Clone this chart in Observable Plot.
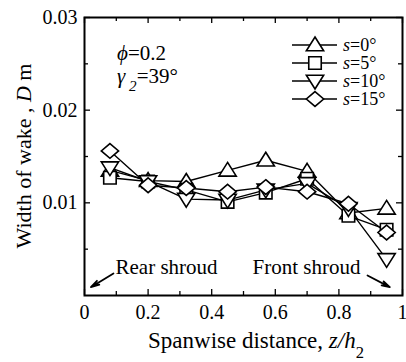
<!DOCTYPE html>
<html><head><meta charset="utf-8">
<script src="https://cdn.jsdelivr.net/npm/d3@7"></script>
<script src="https://cdn.jsdelivr.net/npm/@observablehq/plot@0.6"></script>
<style>body{margin:0;background:#fff} svg text{font-family:"Liberation Serif","Times New Roman","DejaVu Serif",serif !important}</style>
</head><body><div id="chart"></div>
<script>
// ---- data ----
const positions = [0.08, 0.2, 0.32, 0.45, 0.57, 0.7, 0.83, 0.95];
const s0  = [0.0135, 0.0124, 0.0123, 0.0135, 0.0146, 0.0134, 0.0089, 0.0094];
const s5  = [0.0127, 0.0123, 0.0114, 0.0101, 0.0111, 0.0126, 0.0086, 0.0071];
const s10 = [0.0138, 0.0123, 0.0104, 0.0103, 0.0114, 0.0121, 0.0094, 0.0039];
const s15 = [0.0156, 0.0119, 0.0116, 0.0112, 0.0117, 0.0112, 0.0099, 0.0068];
const seriesNames = ["0°", "5°", "10°", "15°"];
const xMajor = [0, 0.2, 0.4, 0.6, 0.8, 1];
const xMinor = [0.1, 0.3, 0.5, 0.7, 0.9];
const yMajor = [0.01, 0.02, 0.03];
const yMinor = [0.005, 0.015, 0.025];
const yTickLabels = ["0.01", "0.02", "0.03"];
const xTickLabels = ["0", "0.2", "0.4", "0.6", "0.8", "1"];
const rearArrow = [{x1: 0.091, y1: 0.00237, x2: 0.02, y2: 0.0009}];
const frontArrow = [{x1: 0.89, y1: 0.00216, x2: 0.96, y2: 0.0009}];

// ---- symbols ----
const triUp = {draw(c, size){const r=Math.sqrt(size/Math.PI);c.moveTo(0,-r);c.lineTo(r*1.08,r*0.72);c.lineTo(-r*1.08,r*0.72);c.closePath();}};
const triDown = {draw(c, size){const r=Math.sqrt(size/Math.PI);c.moveTo(0,r);c.lineTo(r*1.08,-r*0.72);c.lineTo(-r*1.08,-r*0.72);c.closePath();}};
const square = {draw(c, size){const r=Math.sqrt(size/Math.PI)*0.78;c.moveTo(-r,-r);c.lineTo(r,-r);c.lineTo(r,r);c.lineTo(-r,r);c.closePath();}};
const diamond = {draw(c, size){const r=Math.sqrt(size/Math.PI);c.moveTo(0,-0.92*r);c.lineTo(1.08*r,0);c.lineTo(0,0.92*r);c.lineTo(-1.08*r,0);c.closePath();}};
const symbols = [triUp, square, triDown, diamond];
const values = [s0, s5, s10, s15];
const tables = values.map(v => positions.map((x, i) => ({x, y: v[i]})));

const W = 406, H = 362, mL = 84, mR = 4, mT = 17, mB = 67;
const innerH = H - mT - mB, innerW = W - mL - mR;
const R = 8;
const FONT = '"Liberation Serif","Times New Roman","DejaVu Serif",serif';

const plot = Plot.plot({
  width: W, height: H,
  marginLeft: mL, marginRight: mR, marginTop: mT, marginBottom: mB,
  style: {fontFamily: FONT, fontSize: "20px", color: "black", background: "white", overflow: "visible"},
  x: {domain: [0, 1]},
  y: {domain: [0, 0.03]},
  marks: [
    Plot.tickX(xMajor, {x: d => d, insetTop: innerH - 6, stroke: "black", strokeWidth: 1.3}),
    Plot.tickX(xMinor, {x: d => d, insetTop: innerH - 4, stroke: "black", strokeWidth: 1.3}),
    Plot.tickX(xMajor, {x: d => d, insetBottom: innerH - 6, stroke: "black", strokeWidth: 1.3}),
    Plot.tickX(xMinor, {x: d => d, insetBottom: innerH - 4, stroke: "black", strokeWidth: 1.3}),
    Plot.tickY(yMajor, {y: d => d, insetRight: innerW - 6, stroke: "black", strokeWidth: 1.3}),
    Plot.tickY(yMinor, {y: d => d, insetRight: innerW - 4, stroke: "black", strokeWidth: 1.3}),
    Plot.tickY(yMajor, {y: d => d, insetLeft: innerW - 6, stroke: "black", strokeWidth: 1.3}),
    Plot.tickY(yMinor, {y: d => d, insetLeft: innerW - 4, stroke: "black", strokeWidth: 1.3}),
    Plot.axisX({ticks: xMajor, tickSize: 0, tickPadding: 9, tickFormat: (d, i) => xTickLabels[i], label: null, fontSize: 20}),
    Plot.axisY({ticks: yMajor, tickSize: 0, tickPadding: 7, tickFormat: (d, i) => yTickLabels[i], label: null, fontSize: 20}),
    Plot.frame({stroke: "black", strokeWidth: 2}),
    ...tables.map(t => Plot.line(t, {x: "x", y: "y", stroke: "black", strokeWidth: 1.4})),
    ...tables.map((t, k) => Plot.dot(t, {x: "x", y: "y", symbol: symbols[k], r: R, fill: "white", stroke: "black", strokeWidth: 1.6})),
    Plot.arrow(rearArrow, {x1: "x1", y1: "y1", x2: "x2", y2: "y2", stroke: "black", strokeWidth: 1.8, headLength: 9, headAngle: 30, bend: 0}),
    Plot.arrow(frontArrow, {x1: "x1", y1: "y1", x2: "x2", y2: "y2", stroke: "black", strokeWidth: 1.8, headLength: 9, headAngle: 30, bend: 0}),
    Plot.text(["Rear shroud"], {frameAnchor: "bottom-left", dx: 31, dy: -22, text: d => d, fontSize: 21, textAnchor: "start", lineAnchor: "bottom"}),
    Plot.text(["Front shroud"], {frameAnchor: "bottom-left", dx: 168, dy: -22, text: d => d, fontSize: 21, textAnchor: "start", lineAnchor: "bottom"})
  ]
});
document.getElementById("chart").appendChild(plot);

// ---- rich text annotations ----
const svg = d3.select(plot);
function rich(x, y, parts, size, opts = {}) {
  const t = svg.append("text").attr("x", x).attr("y", y)
    .attr("font-family", FONT).attr("font-size", size).attr("fill", "black")
    .attr("text-anchor", opts.anchor || "start");
  if (opts.rotate) t.attr("transform", `rotate(-90,${x},${y})`);
  parts.forEach(p => {
    const s = t.append("tspan").text(p.t);
    if (p.i) s.attr("font-style", "italic");
    if (p.sub) s.attr("baseline-shift", "sub").attr("font-size", size * 0.72);
  });
  return t;
}
rich(256, 348, [{t: "Spanwise distance, "}, {t: "z/h", i: true}, {t: "2", sub: true}], 23, {anchor: "middle"});
rich(31, mT + innerH / 2, [{t: "Width of wake , "}, {t: "D", i: true}, {t: " m"}], 22, {anchor: "middle", rotate: true});
rich(117, 60, [{t: "ϕ", i: true}, {t: "=0.2"}], 21);
rich(117, 83, [{t: "γ", i: true}, {t: " 2", i: true, sub: true}, {t: "=39°"}], 21);
const legRows = [45, 63, 81, 99];
const sym = d3.symbol().size(Math.PI * R * R);
seriesNames.forEach((name, k) => {
  const y = legRows[k];
  svg.append("line").attr("x1", 292).attr("x2", 337).attr("y1", y).attr("y2", y)
    .attr("stroke", "black").attr("stroke-width", 1.4);
  svg.append("path").attr("d", sym.type(symbols[k])()).attr("transform", `translate(315,${y})`)
    .attr("fill", "white").attr("stroke", "black").attr("stroke-width", 1.6);
  rich(343, y + 6, [{t: "s", i: true}, {t: "=" + name}], 18);
});
</script>
</body></html>
